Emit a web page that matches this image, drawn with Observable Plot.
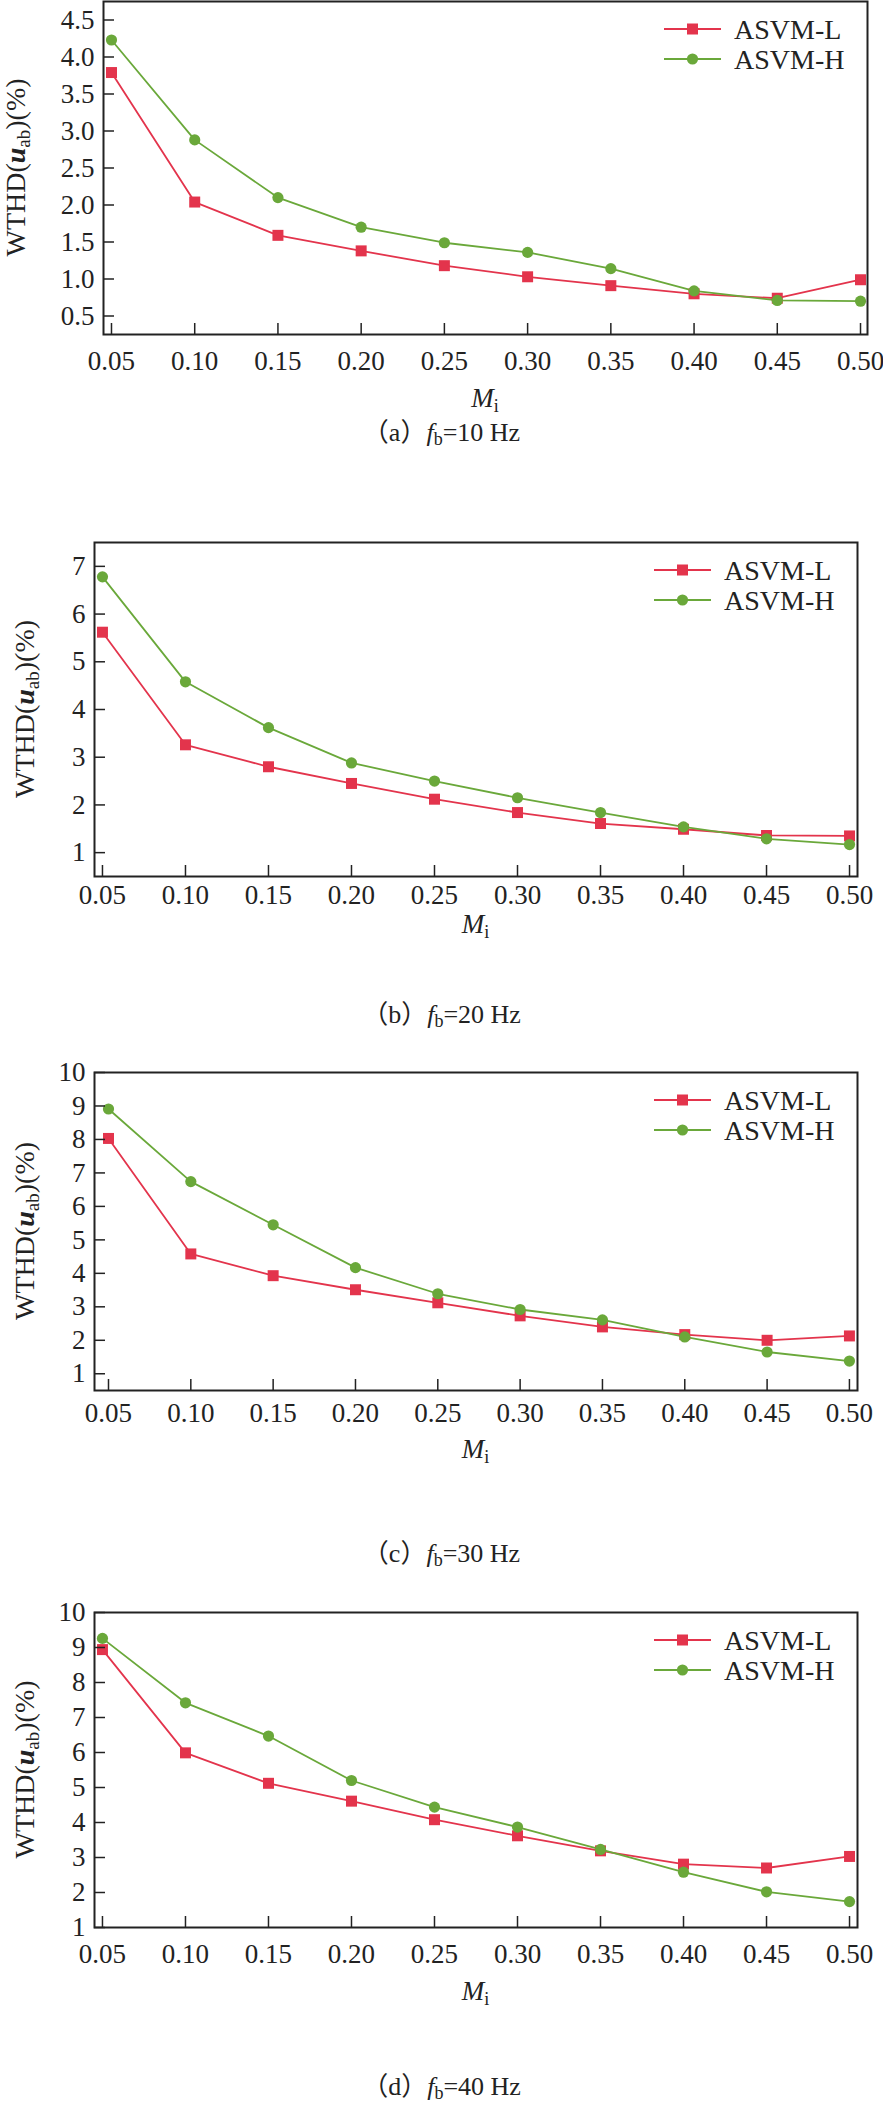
<!DOCTYPE html>
<html><head><meta charset="utf-8">
<script src="https://cdn.jsdelivr.net/npm/d3@7"></script>
<script src="https://cdn.jsdelivr.net/npm/@observablehq/plot@0.6"></script>
<style>
body{margin:0;background:#fff;}
#root{position:relative;width:883px;height:2107px;overflow:hidden;font-family:"Liberation Serif","Times New Roman",serif;color:#222;}
.panel{position:absolute;left:0;}
.cap{position:absolute;left:0;width:883px;text-align:center;font-size:26px;line-height:28px;color:#222;font-family:"Liberation Serif","Noto Sans CJK SC",serif;}
.cap i{font-style:italic;}
.cap sub{font-size:18px;vertical-align:-4px;line-height:0;}
</style></head><body><div id="root"></div>
<script>
// ---- data ----
const Mi = [0.05, 0.10, 0.15, 0.20, 0.25, 0.30, 0.35, 0.40, 0.45, 0.50];
const seriesNames = ["ASVM-L", "ASVM-H"];
const a_L = [3.79, 2.04, 1.59, 1.38, 1.18, 1.03, 0.91, 0.80, 0.74, 0.99];
const a_H = [4.23, 2.88, 2.10, 1.70, 1.49, 1.36, 1.14, 0.84, 0.71, 0.70];
const b_L = [5.62, 3.26, 2.80, 2.45, 2.12, 1.84, 1.61, 1.49, 1.36, 1.35];
const b_H = [6.78, 4.58, 3.62, 2.88, 2.50, 2.15, 1.84, 1.54, 1.29, 1.17];
const c_L = [8.03, 4.58, 3.93, 3.51, 3.12, 2.73, 2.40, 2.17, 2.00, 2.13];
const c_H = [8.91, 6.74, 5.45, 4.17, 3.39, 2.92, 2.61, 2.10, 1.65, 1.38];
const d_L = [8.94, 5.99, 5.12, 4.61, 4.08, 3.62, 3.19, 2.81, 2.70, 3.03];
const d_H = [9.26, 7.42, 6.47, 5.20, 4.44, 3.87, 3.23, 2.58, 2.02, 1.74];
const xTicks = [0.05, 0.10, 0.15, 0.20, 0.25, 0.30, 0.35, 0.40, 0.45, 0.50];
const yTicksA = [0.5, 1.0, 1.5, 2.0, 2.5, 3.0, 3.5, 4.0, 4.5];
const yTicksB = [1, 2, 3, 4, 5, 6, 7];
const yTicksC = [1, 2, 3, 4, 5, 6, 7, 8, 9, 10];
const yTicksD = [1, 2, 3, 4, 5, 6, 7, 8, 9, 10];
const captionLetters = ["a", "b", "c", "d"];
const captionFreqs = ["10", "20", "30", "40"];

// ---- layout ----
const RED = "#e3344c", GREEN = "#6aa83a", INK = "#222";
const FONT = "'Liberation Serif','Times New Roman',serif";
const panels = [
  {L: a_L, H: a_H, yDomain: [0.25, 4.75], yTicks: yTicksA, fmt: d3.format(".1f"), top: 0, mt: 1, fb: 334, ml: 103, mr: 16, xDomain: [0.0452, 0.5042], ylabX: 25, pad: 16, xlab: 73, capY: 434},
  {L: b_L, H: b_H, yDomain: [0.5, 7.5], yTicks: yTicksB, fmt: d3.format("d"), top: 540, mt: 2, fb: 876, ml: 94, mr: 26, xDomain: [0.0452, 0.5048], ylabX: 34, pad: 8, xlab: 57, capY: 1016},
  {L: c_L, H: c_H, yDomain: [0.5, 10], yTicks: yTicksC, fmt: d3.format("d"), top: 1070, mt: 2, fb: 1390, ml: 94, mr: 26, xDomain: [0.0415, 0.5049], ylabX: 34, pad: 12, xlab: 68, capY: 1555},
  {L: d_L, H: d_H, yDomain: [1, 10], yTicks: yTicksD, fmt: d3.format("d"), top: 1610, mt: 2, fb: 1927, ml: 94, mr: 26, xDomain: [0.0452, 0.5048], ylabX: 34, pad: 16, xlab: 73, capY: 2088}
];

const root = document.getElementById("root");
panels.forEach((p, i) => {
  const mb = 84;
  const height = p.fb - p.top + mb;
  const frameH = p.fb - p.top - p.mt;
  const frameW = 883 - p.ml - p.mr;
  const rows = [];
  Mi.forEach((m, j) => {
    rows.push({m, v: p.L[j], s: seriesNames[0]});
    rows.push({m, v: p.H[j], s: seriesNames[1]});
  });
  const L = rows.filter(d => d.s === seriesNames[0]);
  const H = rows.filter(d => d.s === seriesNames[1]);
  const svg = Plot.plot({
    width: 883, height,
    marginTop: p.mt, marginBottom: mb, marginLeft: p.ml, marginRight: p.mr,
    style: {fontFamily: FONT, fontSize: "27px", color: INK, background: "transparent", overflow: "visible"},
    x: {domain: p.xDomain, axis: null},
    y: {domain: p.yDomain, axis: null},
    marks: [
      Plot.line(L, {x: "m", y: "v", stroke: RED, strokeWidth: 1.8}),
      Plot.line(H, {x: "m", y: "v", stroke: GREEN, strokeWidth: 1.8}),
      Plot.dot(L, {x: "m", y: "v", symbol: "square", r: 6.2, fill: RED, stroke: "none"}),
      Plot.dot(H, {x: "m", y: "v", symbol: "circle", r: 5.6, fill: GREEN, stroke: "none"}),
      Plot.tickX(xTicks, {x: d => d, insetTop: frameH - 11, stroke: INK, strokeWidth: 1.5}),
      Plot.tickY(p.yTicks, {y: d => d, insetRight: frameW - 11, stroke: INK, strokeWidth: 1.5}),
      Plot.axisX(xTicks, {tickSize: 0, tickPadding: p.pad, tickFormat: d3.format(".2f"), fontSize: 27, label: null}),
      Plot.axisY(p.yTicks, {tickSize: 0, tickPadding: 9, tickFormat: p.fmt, fontSize: 27, label: null}),
      Plot.frame({stroke: INK, strokeWidth: 2})
    ]
  });
  svg.classList.add("panel");
  svg.style.top = p.top + "px";
  root.appendChild(svg);
  const s = d3.select(svg);
  const right = 883 - p.mr;
  const ft = p.mt;
  // legend
  [[RED, "square", 28], [GREEN, "circle", 58]].forEach(([col, sym, dy], k) => {
    const g = s.append("g").attr("transform", `translate(${right - 203},${ft + dy})`);
    g.append("line").attr("x1", 0).attr("x2", 57).attr("y1", 0).attr("y2", 0).attr("stroke", col).attr("stroke-width", 1.8);
    if (sym === "square") g.append("rect").attr("x", 28.5 - 5.5).attr("y", -5.5).attr("width", 11).attr("height", 11).attr("fill", col);
    else g.append("circle").attr("cx", 28.5).attr("cy", 0).attr("r", 5.6).attr("fill", col);
    g.append("text").attr("x", 70).attr("y", 0).attr("dy", "0.35em").attr("text-anchor", "start").attr("font-size", 28).attr("fill", INK).text(seriesNames[k]);
  });
  // y label
  const cy = ft + frameH / 2;
  const yl = s.append("text").attr("transform", `translate(${p.ylabX},${cy}) rotate(-90)`).attr("text-anchor", "middle").attr("font-size", 28).attr("fill", INK);
  yl.append("tspan").text("WTHD(");
  yl.append("tspan").attr("font-style", "italic").attr("font-weight", "bold").text("u");
  yl.append("tspan").attr("font-size", 19).attr("dy", 5).text("ab");
  yl.append("tspan").attr("dy", -5).text(")(%)");
  // x label
  const cx = p.ml + frameW / 2;
  const xl = s.append("text").attr("x", cx).attr("y", p.fb - p.top + p.xlab).attr("text-anchor", "middle").attr("font-size", 27).attr("fill", INK);
  xl.append("tspan").attr("font-style", "italic").text("M");
  xl.append("tspan").attr("font-size", 18).attr("dy", 5).text("i");
  // caption
  const cap = document.createElement("div");
  cap.className = "cap";
  cap.style.top = (p.capY - 15) + "px";
  cap.innerHTML = `（${captionLetters[i]}）<i>f</i><sub>b</sub>=${captionFreqs[i]} Hz`;
  root.appendChild(cap);
});
</script></body></html>
